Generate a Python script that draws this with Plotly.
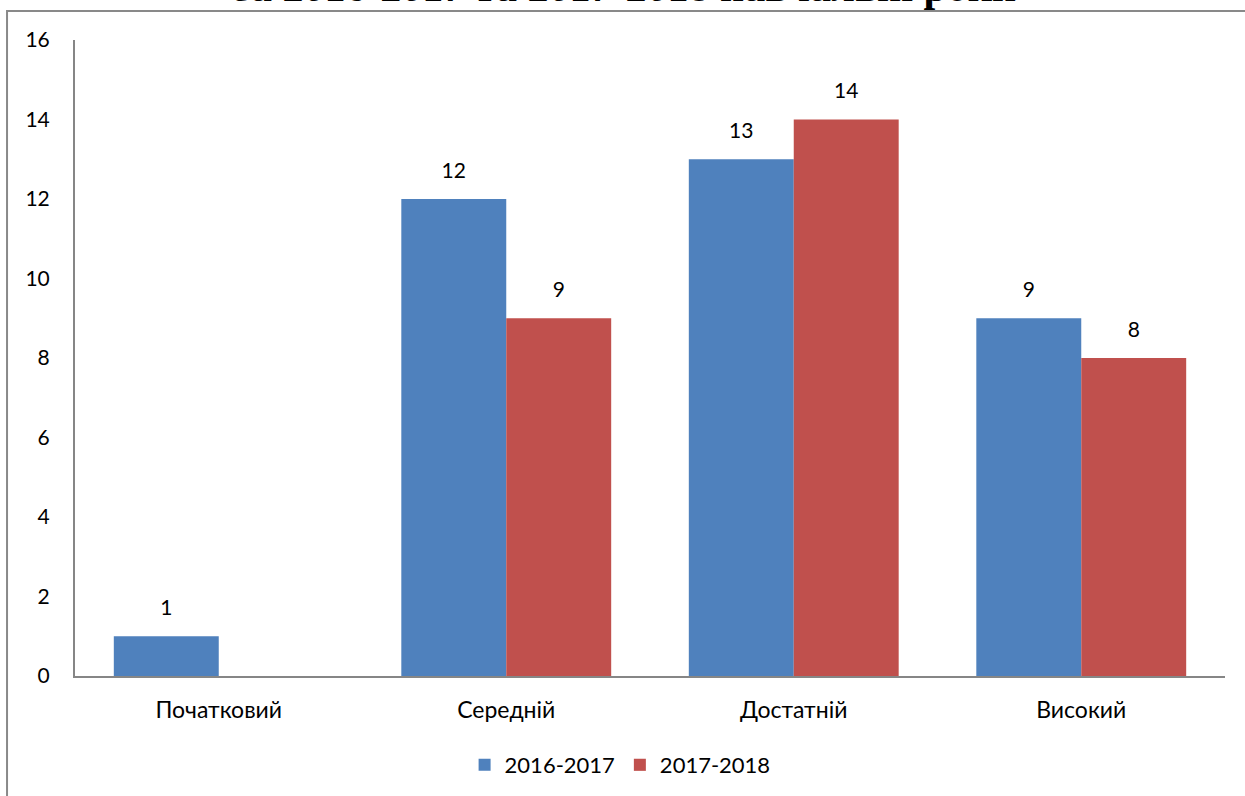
import plotly.graph_objects as go

categories = ["Початковий", "Середній", "Достатній", "Високий"]
series_names = ["2016-2017", "2017-2018"]
values_2016 = [1, 12, 13, 9]
values_2017 = [None, 9, 14, 8]
y_ticks = [0, 2, 4, 6, 8, 10, 12, 14, 16]
title_text = "за 2016-2017 та 2017-2018 навчальні роки"

FONT = "Lato, Liberation Sans, sans-serif"
colors = ["#4F81BD", "#C0504D"]
series = [values_2016, values_2017]

fig = go.Figure()
for name, vals, col in zip(series_names, series, colors):
    fig.add_trace(go.Bar(
        x=categories, y=vals, name=name, marker_color=col,
        marker_line_width=0,
    ))
for name, vals in zip(series_names, series):
    fig.add_trace(go.Scatter(
        x=categories, y=vals, mode="markers+text",
        text=[("" if v is None else str(v)) for v in vals],
        textposition="top center", showlegend=False, hoverinfo="skip",
        cliponaxis=False,
        marker=dict(size=24, opacity=0, color="white"),
        textfont=dict(family=FONT, size=21, color="#000000"),
    ))

fig.update_layout(
    width=1245, height=796,
    margin=dict(l=75, r=20, t=40, b=120, autoexpand=False),
    paper_bgcolor="white", plot_bgcolor="white",
    barmode="group", bargap=0.27, bargroupgap=0,
    scattermode="group", scattergap=0.27,
    showlegend=True,
    legend=dict(orientation="h", x=0.474, xanchor="center", y=-0.107, yanchor="top",
                font=dict(family=FONT, size=22, color="#000000"),
                itemwidth=30, traceorder="normal"),
    font=dict(family=FONT, size=21, color="#000000"),
    xaxis=dict(showline=True, linecolor="#868686", linewidth=2, showgrid=False,
               ticks="", ticklabelstandoff=12, automargin=False,
               tickfont=dict(family=FONT, size=23, color="#000000")),
    yaxis=dict(range=[0, 16], tickvals=y_ticks, showline=True, linecolor="#868686",
               linewidth=2, showgrid=False, ticks="", zeroline=False,
               ticklabelstandoff=19, automargin=False,
               tickfont=dict(family=FONT, size=21, color="#000000")),
    shapes=[dict(type="rect", xref="paper", yref="paper",
                 x0=-0.0591, x1=1.1, y0=-0.4, y1=1.0456,
                 line=dict(color="#898989", width=2), layer="below")],
    annotations=[dict(text="<b>" + title_text + "</b>", xref="paper", yref="paper",
                      x=0.478, y=1.044, xanchor="center", yanchor="bottom",
                      showarrow=False,
                      font=dict(family="Liberation Serif, Times New Roman, serif",
                                size=42, color="#000000"))],
)

fig.write_html("out.html", config={"displayModeBar": False},
               post_script="document.body.style.margin='0';document.body.style.overflow='hidden';")
